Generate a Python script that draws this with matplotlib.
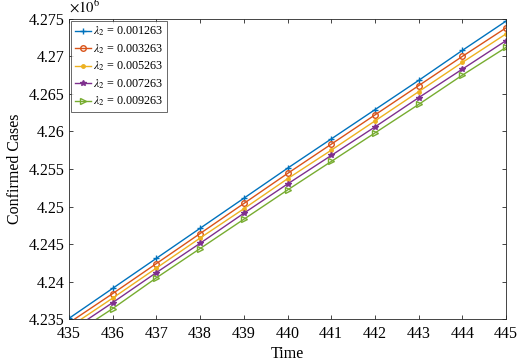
import numpy as np
import matplotlib
matplotlib.use('Agg')
import matplotlib.pyplot as plt

plt.rcParams['font.family'] = ['Liberation Serif', 'DejaVu Serif']
plt.rcParams['mathtext.fontset'] = 'stix'

# Time axis (days)
days = [435, 436, 437, 438, 439, 440, 441, 442, 443, 444, 445]

# Confirmed cases (x 10^6) for each lambda_2 value
lam_labels = ['0.001263', '0.003263', '0.005263', '0.007263', '0.009263']
cases_1 = [4.2351, 4.2391, 4.2431, 4.2471, 4.2511, 4.2551, 4.2590, 4.2629, 4.2668, 4.2708, 4.2747]
cases_2 = [4.2345, 4.2384, 4.2424, 4.2464, 4.2504, 4.2544, 4.2583, 4.2622, 4.2661, 4.2700, 4.2738]
cases_3 = [4.2339, 4.2378, 4.2418, 4.2458, 4.2497, 4.2537, 4.2575, 4.2614, 4.2653, 4.2692, 4.2730]
cases_4 = [4.2333, 4.2372, 4.2412, 4.2451, 4.2491, 4.2530, 4.2568, 4.2606, 4.2645, 4.2683, 4.2721]
cases_5 = [4.2326, 4.2364, 4.2405, 4.2444, 4.2483, 4.2522, 4.2560, 4.2598, 4.2636, 4.2675, 4.2712]
all_cases = [cases_1, cases_2, cases_3, cases_4, cases_5]

colors = ['#0072BD', '#D95319', '#EDB120', '#7E2F8E', '#77AC30']
markers = ['+', 'o', '.', '*', '>']

fig = plt.figure(figsize=(5.19, 3.63), dpi=100)
ax = fig.add_axes([0.133, 0.121, 0.842, 0.827])

for vals, lab, c, m in zip(all_cases, lam_labels, colors, markers):
    y = np.array(vals) * 1e6
    mfc = 'none' if m in ('o', '>') else c
    ms = {'+': 5, 'o': 4, '.': 5, '*': 4, '>': 4}[m]
    ax.plot(days, y, color=c, marker=m, markersize=ms, markerfacecolor=mfc,
            markeredgecolor=c, linewidth=1.0, markeredgewidth=1.0,
            label=r'$\lambda_2$ = ' + lab)

ax.set_xlim(435, 445)
ax.set_ylim(4.235e6, 4.275e6)
ax.set_xticks(days)
yt = np.arange(4.235, 4.2751, 0.005)
ax.set_yticks(yt * 1e6)
ax.set_yticklabels(['%g' % round(v, 3) for v in yt])
ax.text(0.0, 1.01, r'$\times10^6$', transform=ax.transAxes, fontsize=10.5,
        ha='left', va='bottom')

ax.tick_params(direction='in', top=True, right=True, labelsize=11.5,
               length=3, color='#262626', width=0.6)
ax.tick_params(axis='x', pad=5)
for s in ax.spines.values():
    s.set_color('#262626')
    s.set_linewidth(0.6)

ax.set_xlabel('Time', fontsize=11.5, labelpad=3)
ax.set_ylabel('Confirmed Cases', fontsize=11.5, labelpad=4)

leg = ax.legend(loc='upper left', fontsize=8.7, frameon=True, fancybox=False,
                edgecolor='#262626', handlelength=1.3, handletextpad=0.2,
                borderpad=0.3, labelspacing=0.33, borderaxespad=0.2)
leg.get_frame().set_linewidth(0.6)

fig.savefig('out.png', dpi=100)
